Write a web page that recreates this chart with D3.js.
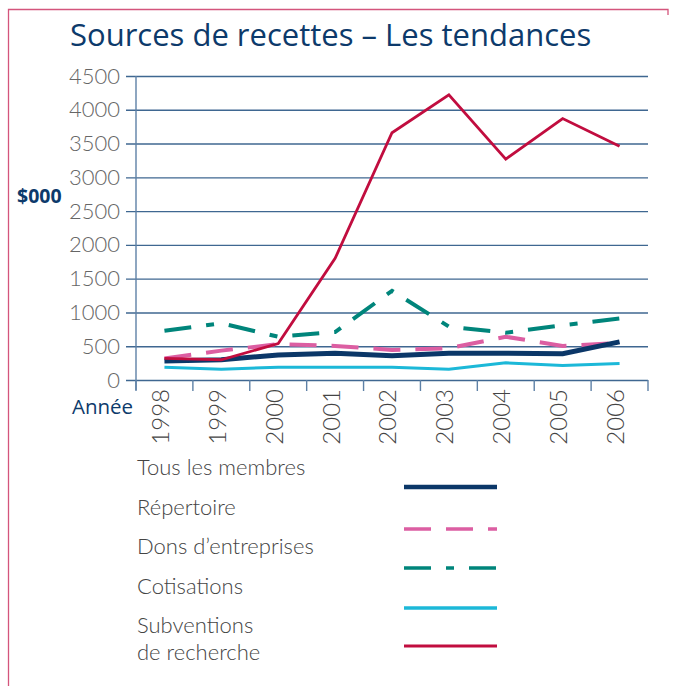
<!DOCTYPE html>
<html><head><meta charset="utf-8">
<script src="https://cdn.jsdelivr.net/npm/d3@7"></script>
<style>
html,body{margin:0;padding:0;background:#fff;}
svg{display:block;}
</style></head>
<body>
<svg id="chart" width="674" height="686"></svg>
<script>
const years = ["1998","1999","2000","2001","2002","2003","2004","2005","2006"];
const tousLesMembres = [280, 300, 370, 395, 360, 395, 395, 390, 565];
const repertoire = [320, 435, 530, 505, 445, 470, 640, 505, 550];
const donsEntreprises = [730, 840, 640, 710, 1320, 790, 700, 810, 910];
const cotisations = [190, 160, 190, 190, 190, 160, 255, 215, 245];
const subventions = [320, 300, 540, 1800, 3660, 4220, 3270, 3870, 3460];
const yTicks = [0, 500, 1000, 1500, 2000, 2500, 3000, 3500, 4000, 4500];
const seriesNames = ["Tous les membres", "Répertoire", "Dons d\u2019entreprises", "Cotisations", "Subventions|de recherche"];

const series = [
  {name: seriesNames[0], values: tousLesMembres, color: "#0b3768", width: 5, dash: null},
  {name: seriesNames[1], values: repertoire, color: "#dc5ea2", width: 4, dash: "27,15"},
  {name: seriesNames[2], values: donsEntreprises, color: "#00857b", width: 4, dash: "27,15,8,15"},
  {name: seriesNames[3], values: cotisations, color: "#1cb8d8", width: 3, dash: null},
  {name: seriesNames[4], values: subventions, color: "#c10d3f", width: 2.8, dash: null}
];

const svg = d3.select("#chart");
const navy = "#0d3a6b";
const gridColor = "#3f6791";
const labelFont = "Lato, 'Open Sans', 'Liberation Sans', sans-serif";

// border
svg.append("path").attr("d", "M8.5,686 L8.5,9.5 L668,9.5 L668,15")
  .attr("fill", "none").attr("stroke", "#d4557c").attr("stroke-width", 1.3);

// title
svg.append("text").attr("x", 70).attr("y", 46)
  .attr("font-family", "'Open Sans', sans-serif").attr("font-size", 31)
  .attr("fill", navy).text("Sources de recettes \u2013 Les tendances");

const x = d3.scaleBand().domain(years).range([136, 648]).padding(0);
const y = d3.scaleLinear().domain([0, 4500]).range([380, 76]);

// grid lines with y axis
const yAxis = d3.axisLeft(y).tickValues(yTicks).tickSize(-(648 - 126)).tickPadding(6).tickFormat(d3.format("d"));
const gy = svg.append("g").attr("transform", "translate(126,0)").call(yAxis);
gy.select(".domain").remove();
gy.selectAll(".tick line").attr("stroke", gridColor).attr("stroke-width", 1.4);
gy.selectAll(".tick text").attr("font-family", labelFont).attr("font-weight", 300)
  .attr("font-size", 22).attr("fill", "#666").attr("x", -6);

// vertical axis line
svg.append("line").attr("x1", 136).attr("x2", 136).attr("y1", 76).attr("y2", 390)
  .attr("stroke", "#5d80a6").attr("stroke-width", 1.4);

// x axis labels, ticks at band boundaries
const xAxis = d3.axisBottom(x).tickSize(0).tickPadding(0);
const gx = svg.append("g").attr("transform", "translate(0,380)").call(xAxis);
gx.select(".domain").remove();
gx.selectAll(".tick line").remove();
gx.selectAll(".tick text")
  .attr("font-family", labelFont).attr("font-weight", 300).attr("font-size", 24).attr("fill", "#444")
  .attr("transform", "rotate(-90)").attr("text-anchor", "end")
  .attr("x", -9).attr("y", -4).attr("dy", "0.35em");
const boundaries = years.map(d => x(d)).concat([x(years[years.length - 1]) + x.bandwidth()]);
svg.append("g").selectAll("line").data(boundaries).join("line")
  .attr("x1", d => d).attr("x2", d => d).attr("y1", 380).attr("y2", 391)
  .attr("stroke", "#5d80a6").attr("stroke-width", 1.4);

// axis titles
svg.append("text").attr("x", 17).attr("y", 203)
  .attr("font-family", "'Open Sans', sans-serif").attr("font-weight", 700).attr("font-size", 19.5)
  .attr("fill", navy).text("$000");
svg.append("text").attr("x", 72).attr("y", 414)
  .attr("font-family", "'Open Sans', sans-serif").attr("font-size", 20.5)
  .attr("fill", navy).text("Année");

// lines
const line = d3.line().x((d, i) => x(years[i]) + x.bandwidth() / 2).y(d => y(d));
const drawOrder = [3, 2, 1, 0, 4];
drawOrder.forEach(k => {
  const s = series[k];
  svg.append("path").datum(s.values).attr("d", line)
    .attr("fill", "none").attr("stroke", s.color).attr("stroke-width", s.width)
    .attr("stroke-dasharray", s.dash).attr("stroke-linejoin", "miter");
});

// legend
const legTextY = [475, 515, 554, 594, 632.5];
const legLineY = [487, 529, 568, 608, 646];
const legLineW = [4.5, 3.5, 3.5, 3.3, 3];
series.forEach((s, i) => {
  const parts = s.name.split("|");
  parts.forEach((p, j) => {
    svg.append("text").attr("x", 137).attr("y", legTextY[i] + j * 27)
      .attr("font-family", labelFont).attr("font-weight", 300).attr("font-size", 22).attr("fill", "#444")
      .text(p);
  });
  svg.append("line").attr("x1", 404).attr("x2", 497).attr("y1", legLineY[i]).attr("y2", legLineY[i])
    .attr("stroke", s.color).attr("stroke-width", legLineW[i])
    .attr("stroke-dasharray", s.dash);
});
</script>
</body></html>
